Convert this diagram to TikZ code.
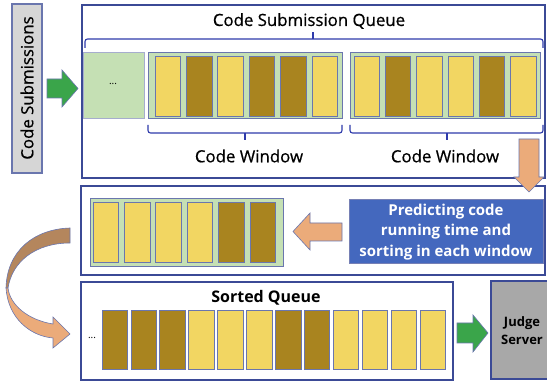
\documentclass[tikz,border=0pt]{standalone}
\usepackage{fontspec}
\setmainfont{Open Sans}
\newfontfamily\mediumfont{Open Sans}[FakeBold=0.6]
\usepackage{tikz}

\definecolor{queueblue}{HTML}{3B4A96}
\definecolor{edgeblue}{HTML}{6A76AE}
\definecolor{winGreen}{HTML}{C5E0B4}
\definecolor{cellLight}{HTML}{F2D662}
\definecolor{cellDark}{HTML}{A9841F}
\definecolor{arrowGreen}{HTML}{3AA54A}
\definecolor{arrowOrange}{HTML}{EBAB7A}
\definecolor{arrowBrown}{HTML}{B4865D}
\definecolor{predBlue}{HTML}{4468BE}
\definecolor{subGray}{HTML}{D6D6D6}
\definecolor{judgeGray}{HTML}{A8A8A8}

\begin{document}
\begin{tikzpicture}[x=1pt,y=-1pt,
  panel/.style={draw=queueblue,fill=white,line width=1.6pt},
  window/.style={draw=edgeblue,fill=winGreen,line width=0.8pt},
  cell/.style={draw=edgeblue,line width=0.8pt},
  bracket/.style={draw=queueblue!80!blue,line width=1.1pt,rounded corners=2.5pt},
  blockarrow/.style={draw=edgeblue,line width=0.6pt},
  plaintext/.style={inner sep=0pt,font=\mediumfont\fontsize{16.8}{20}\selectfont},
  boldtext/.style={inner sep=0pt,align=center,font=\bfseries\fontsize{16}{20}\selectfont}]
\useasboundingbox (0,0) rectangle (547,382);

% incoming submissions
\draw[draw=edgeblue,fill=subGray,line width=1.2pt] (12,4) rectangle (42,173);
\node[plaintext,rotate=90] (subs) at (27,88) {Code Submissions};
\draw[blockarrow,fill=arrowGreen] (47,79) -- (62,79) -- (62,70) -- (78,88.5)
  -- (62,107) -- (62,98) -- (47,98) -- cycle;

% submission queue
\draw[panel] (82,5) rectangle (545,178);
\node[plaintext] (queueTitle) at (309,21) {Code Submission Queue};
\draw[bracket] (85,48) |- (543,39) -- (543,48);
\draw[bracket] (313,39) -- (313,32);

\draw[window,draw=edgeblue!60] (83,52) rectangle (144,118);
\node[inner sep=0pt,font=\normalsize] (dotsTop) at (113,84) {...};

\draw[window] (148,52) rectangle (342,118);
\foreach \c [count=\i from 0] in {cellLight,cellDark,cellLight,cellDark,cellDark,cellLight}
  \draw[cell,fill=\c] (155+\i*31.4,56) rectangle ++(25.5,60);

\draw[window] (350,52) rectangle (540,118);
\foreach \c [count=\i from 0] in {cellLight,cellDark,cellLight,cellLight,cellDark,cellLight}
  \draw[cell,fill=\c] (354+\i*31.3,56) rectangle ++(25.5,60);

% windows
\draw[bracket] (148,125) |- (342,133) -- (342,125);
\draw[bracket] (245,133) -- (245,140);
\node[plaintext] (winA) at (249,156) {Code Window};
\draw[bracket] (350,125) |- (543,133) -- (543,125);
\draw[bracket] (447,133) -- (447,140);
\node[plaintext] (winB) at (445,156) {Code Window};

% prediction and sorting
\draw[panel] (81,186) rectangle (545,275);
\draw[window] (90,198) rectangle (283,266);
\foreach \c [count=\i from 0] in {cellLight,cellLight,cellLight,cellLight,cellDark,cellDark}
  \draw[cell,fill=\c] (93+\i*31.4,202) rectangle ++(25.5,60);

\draw[draw=queueblue!70,fill=predBlue,line width=0.8pt] (349,199) rectangle (543,263);
\node[boldtext,text=white,font=\bfseries\fontsize{15}{20.5}\selectfont] (predict) at (446,232)
  {Predicting code\\running time and\\sorting in each window};

\draw[blockarrow,fill=arrowOrange] (342,223) -- (310,223) -- (310,213) -- (293,231.5)
  -- (310,250) -- (310,241) -- (342,241) -- cycle;

% down arrow
\draw[blockarrow,fill=arrowOrange] (519,139) -- (539,139) -- (539,177) -- (544,177)
  -- (529,192) -- (514,177) -- (519,177) -- cycle;

% curved arrow to sorted queue
\draw[blockarrow,fill=arrowBrown] (70,228) .. controls (35,229) and (7,250) .. (6,288)
  -- (8,288) .. controls (12,262) and (35,243) .. (70,243) -- cycle;
\draw[blockarrow,fill=arrowOrange] (6,288) .. controls (8,318) and (30,336) .. (53,338)
  -- (53,348) -- (70,334) -- (53,317) -- (53,324) .. controls (28,320) and (10,305) .. (8,288) -- cycle;

% sorted queue
\draw[panel] (81,282) rectangle (453,380);
\node[boldtext] (sortedTitle) at (266,298) {Sorted Queue};
\node[inner sep=0pt,font=\normalsize] (dotsBottom) at (92,338) {...};
\foreach \c [count=\i from 0] in {cellDark,cellDark,cellDark,cellLight,cellLight,cellLight,
    cellDark,cellDark,cellLight,cellLight,cellLight,cellLight}
  \draw[cell,fill=\c] (102+\i*28.9,310) rectangle ++(25.5,59);

% judge server
\draw[blockarrow,fill=arrowGreen] (457,323) -- (473,323) -- (473,315) -- (488,333)
  -- (473,352) -- (473,343) -- (457,343) -- cycle;
\draw[draw=queueblue,fill=judgeGray,line width=1.6pt] (491,281) rectangle (556,379);
\node[boldtext,font=\bfseries\fontsize{13}{18}\selectfont] (judge) at (522,331) {Judge\\Server};
\end{tikzpicture}
\end{document}
